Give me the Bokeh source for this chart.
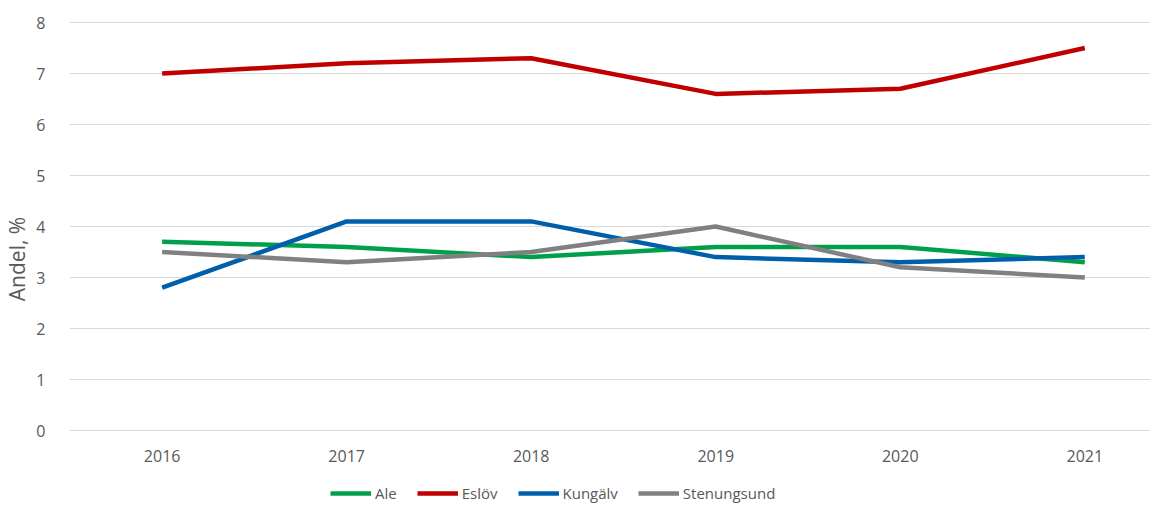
from bokeh.plotting import figure
from bokeh.models import Legend, LegendItem, Range1d, FixedTicker, ColumnDataSource
from bokeh.core.properties import value
from bokeh.embed import file_html
from bokeh.resources import INLINE

years = [2016, 2017, 2018, 2019, 2020, 2021]
year_labels = ["2016", "2017", "2018", "2019", "2020", "2021"]
ale = [3.7, 3.6, 3.4, 3.6, 3.6, 3.3]
eslov = [7.0, 7.2, 7.3, 6.6, 6.7, 7.5]
kungalv = [2.8, 4.1, 4.1, 3.4, 3.3, 3.4]
stenungsund = [3.5, 3.3, 3.5, 4.0, 3.2, 3.0]
series_names = ["Ale", "Eslöv", "Kungälv", "Stenungsund"]
colors = ["#00A04B", "#C00000", "#005FAA", "#808080"]

FONT = "Open Sans"
TXT = "#595959"

p = figure(width=1150, height=503, output_backend="svg", toolbar_location=None,
           x_range=Range1d(2015.498, 2021.356), y_range=Range1d(-1.431, 8.157),
           min_border_left=64, min_border_right=0, min_border_top=14,
           min_border_bottom=0, outline_line_color=None)

items = []
for name, ys, c in zip(series_names, [ale, eslov, kungalv, stenungsund], colors):
    r = p.line(years, ys, line_color=c, line_width=4.5)
    items.append(LegendItem(label=name, renderers=[r]))

# category labels under the baseline
lab_src = ColumnDataSource(dict(x=years, y=[0 for _ in years], t=year_labels))
p.text(x="x", y="y", text="t", source=lab_src, y_offset=25,
       text_align="center", text_baseline="middle",
       text_font=value(FONT), text_font_size="16px", text_color=TXT)

p.xaxis.visible = False
p.yaxis.ticker = FixedTicker(ticks=list(range(0, 9)))
p.yaxis.axis_line_color = None
p.yaxis.major_tick_line_color = None
p.yaxis.minor_tick_line_color = None
p.yaxis.major_label_text_font = FONT
p.yaxis.major_label_text_font_size = "16px"
p.yaxis.major_label_text_color = TXT
p.yaxis.major_label_standoff = 18
p.yaxis.axis_label = "Andel, %"
p.yaxis.axis_label_text_font = FONT
p.yaxis.axis_label_text_font_size = "21px"
p.yaxis.axis_label_text_font_style = "normal"
p.yaxis.axis_label_text_color = TXT
p.yaxis.axis_label_standoff = 2

p.xgrid.grid_line_color = None
p.ygrid.grid_line_color = "#D9D9D9"
p.ygrid.grid_line_width = 1

legend = Legend(items=items, orientation="horizontal", location=(261, 0),
                label_text_font=FONT, label_text_font_size="15px",
                label_text_color=TXT, glyph_width=41, glyph_height=20,
                label_height=20, label_standoff=4, spacing=20,
                border_line_color=None, background_fill_alpha=0,
                padding=0, margin=0)
p.add_layout(legend, "center")

open("out.html", "w").write(file_html(p, INLINE))
